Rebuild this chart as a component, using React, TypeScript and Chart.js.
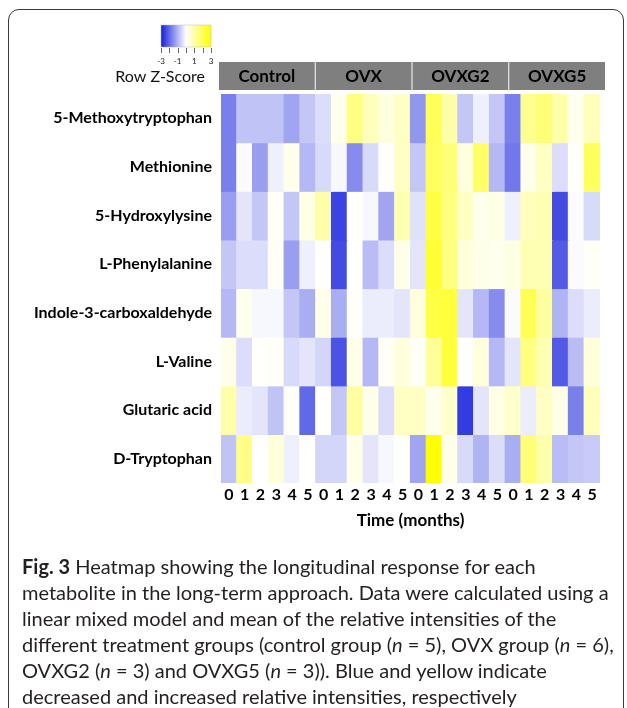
import React, { useEffect, useRef } from "react";
import { Chart, registerables } from "chart.js";

Chart.register(...registerables);

const groups = ["Control", "OVX", "OVXG2", "OVXG5"];
const months = ["0", "1", "2", "3", "4", "5"];
const metabolites = [
  "5-Methoxytryptophan",
  "Methionine",
  "5-Hydroxylysine",
  "L-Phenylalanine",
  "Indole-3-carboxaldehyde",
  "L-Valine",
  "Glutaric acid",
  "D-Tryptophan",
];

// Row z-scores, columns: Control 0-5, OVX 0-5, OVXG2 0-5, OVXG5 0-5
const zMethoxytryptophan = [-1.7, -0.8, -0.8, -0.8, -1.2, -0.75, -0.45, 0.2, 1.5, 0.8, 0.4, 0.7, -1.4, 2.0, 1.0, -0.75, -0.2, -0.75, -1.7, 1.3, 1.6, 1.0, 0.2, 0.8];
const zMethionine = [-1.7, -0.05, -1.3, -0.2, 0.25, -0.95, -0.5, -0.1, -1.55, -0.5, 0, 0.7, -0.75, 1.9, 1.6, 0.4, 1.8, -0.95, -1.8, 0.25, 0.7, -0.45, 0.05, 1.9];
const zHydroxylysine = [-1.3, -0.35, -0.75, 0.1, -0.75, 0.3, 1.0, -2.5, 0.05, -0.1, -1.2, 0.9, -0.4, 2.2, 1.5, 0.7, 0.2, 0.3, -0.2, 0.8, 0.9, -2.4, -0.05, -0.5];
const zPhenylalanine = [-0.75, -0.45, -0.45, 0.1, -1.3, -0.2, 0.05, -2.4, 0.05, -0.9, -0.45, 0.25, -0.35, 2.4, 1.5, 0.45, 0.25, 0.2, 0.3, 0.9, 0.9, -2.2, -0.05, 0.1];
const zIndole = [-0.95, 0.2, -0.1, -0.1, -0.75, -1.1, 0.25, -1.1, 0.05, -0.25, -0.25, -0.35, 0.4, 2.2, 2.3, -0.35, -0.95, -1.55, -0.05, 2.0, 1.1, -1.0, -0.45, -0.25];
const zValine = [0.25, -0.45, 0.05, 0.1, -0.5, -0.35, -0.55, -2.3, 0.3, -0.95, 0.1, 0.4, 0.1, 1.2, 2.3, 0, 0.4, -0.95, -0.35, 1.5, 0.9, -2.2, -0.9, 0.45];
const zGlutaric = [1.0, -0.25, -0.35, -0.8, 0.02, -2.0, 0.02, -0.75, 1.1, 0.25, -0.45, 0.7, 0.7, 0.2, 0.6, -2.6, -0.35, 0.3, 0.6, -0.25, 0.7, 0.3, -1.7, 0.8];
const zDTryptophan = [-0.8, 1.4, 0, 0.45, -0.2, 0.05, -0.55, -0.55, 0.25, -0.35, -0.1, 0.02, -1.2, 3.0, 0.25, -0.5, -1.0, -0.45, -1.1, 1.6, 1.0, -0.9, -0.75, -0.7];

const zRows = [zMethoxytryptophan, zMethionine, zHydroxylysine, zPhenylalanine, zIndole, zValine, zGlutaric, zDTryptophan];

const legendTickLabels = ["-3", "-1", "1", "3"];
const legendTickValues = [-3, -1, 1, 3];

const FONT = "Lato, 'Open Sans', sans-serif";

function zColor(z: number): string {
  const t = Math.min(1, Math.abs(z) / 3);
  if (z < 0) {
    return `rgb(${Math.round(255 - t * 235)},${Math.round(255 - t * 225)},${Math.round(255 - t * 35)})`;
  }
  return `rgb(255,255,${Math.round(255 - t * 255)})`;
}

const columns = groups.flatMap((g) => months.map((m) => `${g} ${m}`));

const decorPlugin = {
  id: "decor",
  afterDraw(chart: any) {
    const ctx = chart.ctx;
    const x = chart.scales.x;
    const area = chart.chartArea;
    const colW = x.getPixelForValue(1) - x.getPixelForValue(0);
    // group header boxes
    ctx.save();
    groups.forEach((g, gi) => {
      const left = x.getPixelForValue(gi * 6) - colW / 2 - 2 + gi * 2;
      const w = colW * 6 + 1;
      const top = area.top - 32;
      const h = 28;
      ctx.fillStyle = "#7f7f7f";
      ctx.fillRect(left, top, w, h);
      ctx.fillStyle = "#000";
      ctx.font = `bold 17px ${FONT}`;
      ctx.textAlign = "center";
      ctx.textBaseline = "middle";
      ctx.fillText(g, left + w / 2, top + h / 2 + 1);
    });
    // colour key
    const kx = area.left - 60;
    const ky = 25;
    const kw = 50;
    const kh = 22;
    const grad = ctx.createLinearGradient(kx, 0, kx + kw, 0);
    for (let i = 0; i <= 12; i++) {
      const z = -3 + i * 0.5;
      grad.addColorStop(i / 12, zColor(z));
    }
    ctx.fillStyle = grad;
    ctx.fillRect(kx, ky, kw, kh);
    ctx.strokeStyle = "#bbb";
    ctx.lineWidth = 0.5;
    ctx.strokeRect(kx, ky, kw, kh);
    ctx.strokeStyle = "#666";
    ctx.lineWidth = 1;
    for (let i = 0; i <= 6; i++) {
      const tx = Math.round(kx + (i * kw) / 6) + 0.5;
      ctx.beginPath();
      ctx.moveTo(tx, ky + kh + 1);
      ctx.lineTo(tx, ky + kh + 6);
      ctx.stroke();
    }
    ctx.fillStyle = "#222";
    ctx.font = `8px ${FONT}`;
    ctx.textAlign = "center";
    ctx.textBaseline = "middle";
    legendTickLabels.forEach((lab, i) => {
      const v = legendTickValues[i];
      ctx.fillText(lab, kx + ((v + 3) / 6) * kw, ky + kh + 14);
    });
    ctx.font = `16px ${FONT}`;
    ctx.textAlign = "right";
    ctx.fillStyle = "#111";
    ctx.fillText("Row Z-Score", area.left - 16, area.top - 17);
    ctx.restore();
  },
};

export default function App() {
  const ref = useRef<HTMLCanvasElement>(null);
  useEffect(() => {
    document.body.style.margin = "0";
    const chart = new Chart(ref.current as HTMLCanvasElement, {
      type: "bar",
      data: {
        labels: columns,
        datasets: metabolites.map((name, i) => ({
          label: name,
          data: zRows[i].map(() => 1),
          backgroundColor: zRows[i].map(zColor),
          borderWidth: 0,
          inflateAmount: 0.6,
          barPercentage: 1,
          categoryPercentage: 1,
        })),
      },
      options: {
        responsive: false,
        animation: false,
        layout: { padding: { top: 94, right: 27, bottom: 177, left: 0 } },
        plugins: { legend: { display: false }, tooltip: { enabled: false } },
        scales: {
          x: {
            stacked: true,
            grid: { display: false, drawTicks: false },
            border: { display: false },
            ticks: {
              color: "#000",
              font: { family: FONT, size: 16, weight: "bold" },
              maxRotation: 0,
              autoSkip: false,
              padding: 2,
              callback: (_v: any, i: number) => months[i % months.length],
            },
            title: {
              display: true,
              text: "Time (months)",
              color: "#000",
              font: { family: FONT, size: 17, weight: "bold" },
              padding: { top: 0, bottom: 0 },
            },
            afterFit: (s: any) => {
              s.height = 48;
            },
          },
          y: {
            type: "linear",
            stacked: true,
            min: 0,
            max: metabolites.length,
            reverse: true,
            grid: { display: false, drawTicks: false },
            border: { display: false },
            afterBuildTicks: (s: any) => {
              s.ticks = metabolites.map((_, i) => ({ value: i + 0.5 }));
            },
            ticks: {
              color: "#000",
              font: { family: FONT, size: 16, weight: "bold" },
              padding: 9,
              autoSkip: false,
              callback: (_v: any, i: number) => metabolites[i],
            },
            afterFit: (s: any) => {
              s.width = 221;
            },
          },
        },
      },
      plugins: [decorPlugin],
    } as any);
    return () => chart.destroy();
  }, []);

  return (
    <div style={{ position: "relative", width: 627, height: 708, overflow: "hidden", background: "#fff" }}>
      <canvas ref={ref} width={627} height={708} style={{ position: "absolute", left: 0, top: 0 }} />
      <div
        style={{
          position: "absolute",
          left: 8,
          top: 9,
          width: 616,
          height: 710,
          border: "1.5px solid #3a3a3a",
          borderRadius: 11,
          boxSizing: "border-box",
          pointerEvents: "none",
        }}
      />
      <div
        style={{
          position: "absolute",
          left: 22,
          top: 553,
          width: 600,
          fontFamily: FONT,
          fontSize: 20,
          lineHeight: "26px",
          color: "#231f20",
          whiteSpace: "nowrap",
        }}
      >
        <b>Fig. 3</b> Heatmap showing the longitudinal response for each
        <br />
        metabolite in the long-term approach. Data were calculated using a
        <br />
        linear mixed model and mean of the relative intensities of the
        <br />
        different treatment groups (control group (<i>n</i> = 5), OVX group (<i>n</i> = 6),
        <br />
        OVXG2 (<i>n</i> = 3) and OVXG5 (<i>n</i> = 3)). Blue and yellow indicate
        <br />
        decreased and increased relative intensities, respectively
      </div>
    </div>
  );
}
